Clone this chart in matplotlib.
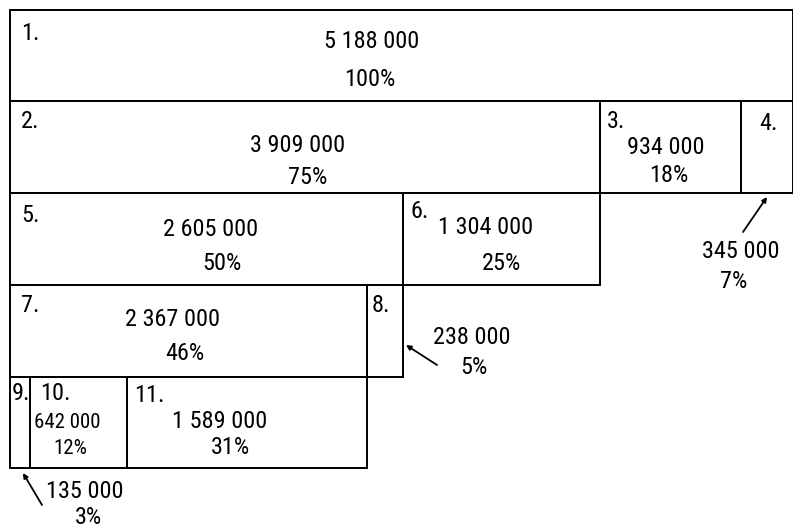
import matplotlib
matplotlib.use("Agg")
import matplotlib.pyplot as plt
from matplotlib.patches import Rectangle

plt.rcParams['font.family'] = ['Roboto Condensed', 'DejaVu Sans']

# Data (thousands)
labels = ["1.", "2.", "3.", "4.", "5.", "6.", "7.", "8.", "9.", "10.", "11."]
values = [5188, 3909, 934, 345, 2605, 1304, 2367, 238, 135, 642, 1589]
value_text = ["5 188 000", "3 909 000", "934 000", "345 000", "2 605 000", "1 304 000",
              "2 367 000", "238 000", "135 000", "642 000", "1 589 000"]
pct_text = ["100%", "75%", "18%", "7%", "50%", "25%", "46%", "5%", "3%", "12%", "31%"]
rows = [[0], [1, 2, 3], [4, 5], [6, 7], [8, 9, 10]]

W, H = 793, 529
fig = plt.figure(figsize=(W / 100, H / 100), dpi=100)
ax = fig.add_axes([0, 0, 1, 1])
s = (W - 10) / values[0]          # px per thousand
ax.set_xlim(-10 / s, (W - 10) / s)
ax.set_ylim(H, 0)
ax.axis('off')

row_top = [10, 101, 193, 285, 377]
row_h = [91, 92, 92, 92, 91]

def X(px):
    return (px - 10) / s

starts = {}
for r, idxs in enumerate(rows):
    x = 0
    for i in idxs:
        starts[i] = x
        ax.add_patch(Rectangle((x, row_top[r]), values[i], row_h[r], fill=False,
                               edgecolor='black', linewidth=1.4, clip_on=False))
        x += values[i]

FS = 17.5
LFS = 17.5

# index labels: (offset in px from box's left edge, vertical center)
lab_pos = {0: (11, 34), 1: (11, 122), 2: (7, 122), 3: (18, 124), 4: (11, 216),
           5: (7, 212), 6: (11, 305), 7: (4, 305), 8: (2, 393), 9: (10, 393), 10: (7, 396)}
for i, (dx, py_) in lab_pos.items():
    ax.text(starts[i] + dx / s, py_, labels[i], fontsize=LFS, ha='left', va='center')

# numbers in boxes: (value center x, value y, pct center x, pct y, size)
num_pos = {0: (372, 41, 370, 80, FS), 1: (298, 146, 308, 177, FS), 2: (666, 147, 669, 175, FS),
           4: (211, 229, 222, 264, FS), 5: (486, 228, 502, 264, FS),
           6: (172, 319, 185, 353, FS), 9: (67, 423, 70, 449, 15), 10: (220, 421, 230, 448, FS)}
for i, (vx, vy, px_, py_, fs) in num_pos.items():
    ax.text(X(vx), vy, value_text[i], fontsize=fs, ha='center', va='center')
    ax.text(X(px_), py_, pct_text[i], fontsize=fs, ha='center', va='center')

# outside labels with arrows: (value x, value y, pct x, pct y, arrow tail, arrow head)
out = {3: (741, 252, 734, 282, (743, 232), (767, 197)),
       7: (472, 337, 474, 367, (437, 365), (406, 345)),
       8: (85, 491, 88, 518, (42, 505), (23, 473))}
for i, (tx, vy, px_, py_, tail, head) in out.items():
    ax.text(X(tx), vy, value_text[i], fontsize=FS, ha='center', va='center')
    ax.text(X(px_), py_, pct_text[i], fontsize=FS, ha='center', va='center')
    ax.annotate('', xy=(X(head[0]), head[1]), xytext=(X(tail[0]), tail[1]),
                arrowprops=dict(arrowstyle='-|>', color='black', lw=1.3,
                                mutation_scale=7, shrinkA=0, shrinkB=0))

fig.savefig('out.png', dpi=100, facecolor='white')
